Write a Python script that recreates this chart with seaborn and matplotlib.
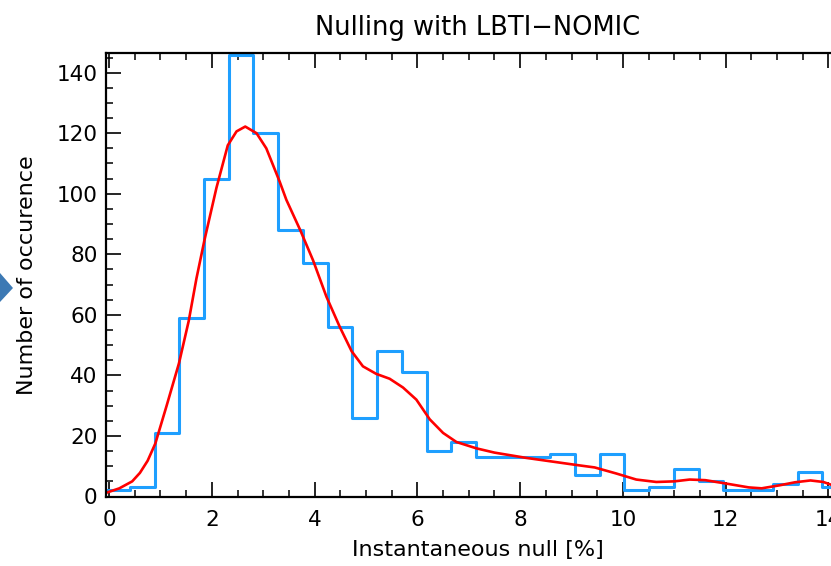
import numpy as np
import pandas as pd
import matplotlib
matplotlib.use("Agg")
import matplotlib.pyplot as plt
from matplotlib.patches import Polygon
from matplotlib.ticker import MultipleLocator
import seaborn as sns

# ---- data ----
bin_start = -0.078
bin_width = 0.4813
counts = [2, 3, 21, 59, 105, 146, 120, 88, 77, 56,
          26, 48, 41, 15, 18, 13, 13, 13, 14, 7,
          14, 2, 3, 9, 5, 2, 2, 4, 8, 3]

curve_x = [-0.06, 0.2, 0.45, 0.6, 0.75, 0.9, 1.12, 1.36, 1.55, 1.7, 1.86,
           2.09, 2.31, 2.48, 2.65, 2.87, 3.06, 3.32, 3.45, 3.72, 3.97,
           4.23, 4.49, 4.72, 4.94, 5.2, 5.46, 5.72, 5.98, 6.24, 6.5,
           6.76, 7.15, 7.5, 8.1, 8.6, 9.1, 9.45, 9.87, 10.26, 10.65,
           11.0, 11.3, 11.6, 12.0, 12.45, 12.7, 13.05, 13.35, 13.65, 13.9,
           14.1, 14.4]
curve_y = [1.2, 2.7, 5.0, 7.8, 11.8, 17.5, 30.0, 44.0, 58.0, 72.0, 85.0,
           102.0, 116.0, 120.6, 122.2, 120.0, 115.0, 104.0, 98.0, 88.0, 78.0,
           66.0, 56.0, 48.0, 43.0, 40.5, 38.9, 36.0, 32.0, 25.5, 21.0,
           18.0, 15.9, 14.5, 12.8, 11.6, 10.4, 9.6, 7.6, 5.6, 4.8,
           5.0, 5.6, 5.4, 4.3, 3.0, 2.7, 3.7, 4.7, 5.3, 4.8,
           3.6, 2.5]

title = "Nulling with LBTI\u2212NOMIC"
xlabel = "Instantaneous null [%]"
ylabel = "Number of occurence"

# ---- build table ----
n_bins = len(counts)
edges = bin_start + bin_width * np.arange(n_bins + 1)
centers = (edges[:-1] + edges[1:]) / 2
hist_df = pd.DataFrame({"null": centers, "count": counts})
curve_df = pd.DataFrame({"x": curve_x, "y": curve_y})

sns.set_style("white")
plt.rcParams["font.family"] = ["DejaVu Sans"]
plt.rcParams["text.color"] = "black"
plt.rcParams["axes.labelcolor"] = "black"
plt.rcParams["xtick.color"] = "black"
plt.rcParams["ytick.color"] = "black"

fig = plt.figure(figsize=(8.31, 5.66), dpi=100)
ax = fig.add_axes([106 / 831, 69.5 / 566, (849 - 106) / 831, (496.5 - 53) / 566])

sns.histplot(data=hist_df, x="null", weights="count",
             binwidth=bin_width, binrange=(float(edges[0]), float(edges[-1])),
             element="step", fill=False, color="#1E9FFF", linewidth=2.2, ax=ax)
sns.lineplot(data=curve_df, x="x", y="y", color="#FF0000", linewidth=1.9, ax=ax)

ax.set_xlim(-0.06, 14.4)
ax.set_ylim(0, 146.5)

ax.xaxis.set_major_locator(MultipleLocator(2))
ax.xaxis.set_minor_locator(MultipleLocator(0.5))
ax.yaxis.set_major_locator(MultipleLocator(20))
ax.yaxis.set_minor_locator(MultipleLocator(5))

ax.tick_params(which="both", direction="in", top=True, right=True,
               bottom=True, left=True, color="black", labelcolor="black")
ax.tick_params(which="major", length=10.5, width=1.2, labelsize=15.5)
ax.tick_params(axis="y", which="major", pad=6)
ax.tick_params(axis="x", which="major", pad=10)
ax.tick_params(which="minor", length=5, width=1.1)

for s in ax.spines.values():
    s.set_visible(True)
    s.set_color("black")
    s.set_linewidth(1.6)

ax.set_title(title, fontsize=18.5, pad=13, color="black")
ax.set_xlabel(xlabel, fontsize=16, labelpad=7, color="black")
ax.set_ylabel(ylabel, fontsize=16, labelpad=14, color="black")

# decorative arrow from the slide at the left edge
tri = Polygon([[0 / 831, 1 - 273 / 566], [13 / 831, 1 - 288 / 566], [0 / 831, 1 - 302 / 566]],
              closed=True, transform=fig.transFigure, facecolor="#3C79B4",
              edgecolor="none", clip_on=False)
fig.patches.append(tri)

fig.savefig("out.png", dpi=100)
